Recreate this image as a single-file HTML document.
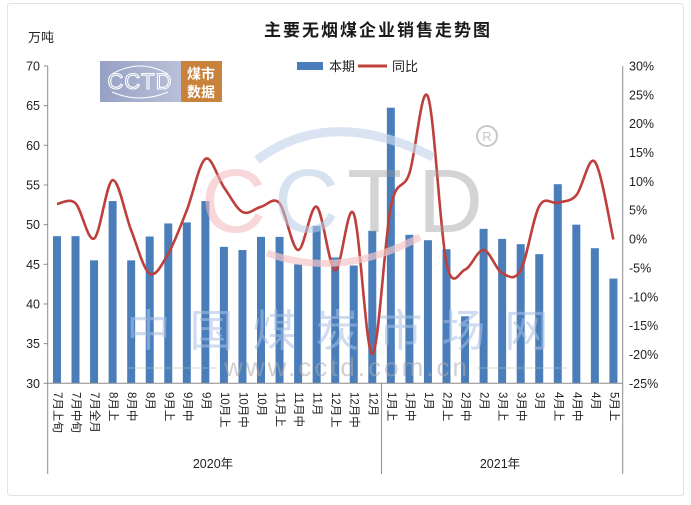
<!DOCTYPE html>
<html><head><meta charset="utf-8">
<style>
html,body{margin:0;padding:0;background:#fff;}
body{width:691px;height:500px;overflow:hidden;position:relative;font-family:"Liberation Sans","Noto Sans CJK SC",sans-serif;}
svg text{font-family:"Liberation Sans","Noto Sans CJK SC",sans-serif;}
</style></head>
<body>
<svg id="c" width="691" height="500" viewBox="0 0 691 500" xmlns="http://www.w3.org/2000/svg">
<rect x="7.5" y="3.5" width="676" height="492" rx="3" fill="#fff" stroke="#e2e2e2" stroke-width="1"/>
<defs>
<linearGradient id="lg" x1="0" y1="0" x2="1" y2="0">
<stop offset="0" stop-color="#96a0c4"/><stop offset="1" stop-color="#b9c0d8"/>
</linearGradient>
</defs>
<!-- title -->
<text x="378" y="36" text-anchor="middle" font-size="17" font-weight="bold" fill="#1a1a1a" letter-spacing="2">主要无烟煤企业销售走势图</text>
<text x="28" y="42" font-size="13" fill="#222">万吨</text>
<!-- logo -->
<rect x="100" y="61" width="81" height="41" fill="url(#lg)"/>
<rect x="181" y="61" width="41" height="41" fill="#c8823c"/>
<text x="140" y="89" text-anchor="middle" font-size="22" fill="none" stroke="#fff" stroke-width="1.1" letter-spacing="1">CCTD</text>
<path d="M112 74 Q140 58 168 74" fill="none" stroke="#fff" stroke-width="1"/>
<path d="M112 92 Q140 104 168 92" fill="none" stroke="#fff" stroke-width="1"/>
<text x="201" y="79" text-anchor="middle" font-size="14" font-weight="bold" fill="#fff">煤市</text>
<text x="201" y="97" text-anchor="middle" font-size="14" font-weight="bold" fill="#fff">数据</text>
<!-- legend -->
<rect x="297" y="62" width="26" height="8" fill="#4a7ebb"/>
<text x="329" y="71" font-size="13" fill="#222">本期</text>
<line x1="358" y1="66" x2="387" y2="66" stroke="#c0403c" stroke-width="3"/>
<text x="392" y="71" font-size="13" fill="#222">同比</text>
<g id="plot"></g>
<g id="wm">
<path d="M257 160 Q330 105 433 157" fill="none" stroke="#c9d7ec" stroke-width="9" opacity="0.7"/>
<path d="M267 253 Q340 280 420 237" fill="none" stroke="#f4c6c8" stroke-width="7" opacity="0.7"/>
<text x="201" y="232" font-size="90" fill="#f2b8bb" opacity="0.55">C</text>
<text x="274" y="232" font-size="90" fill="#b8cbe6" opacity="0.55">C</text>
<text x="347" y="232" font-size="90" fill="#9a9a9a" opacity="0.42">T</text>
<text x="418" y="232" font-size="90" fill="#9a9a9a" opacity="0.42">D</text>
<circle cx="487" cy="136" r="10" fill="none" stroke="#c8c8c8" stroke-width="2"/>
<text x="487" y="141" text-anchor="middle" font-size="13" fill="#c8c8c8">R</text>
<text x="347" y="346" text-anchor="middle" font-size="44" fill="#a9c0e4" opacity="0.55" letter-spacing="19">中国煤炭市场网</text>
<text x="347" y="376" text-anchor="middle" font-size="26" fill="#aaaaaa" opacity="0.55" letter-spacing="3">www.cctd.com.cn</text>
<line x1="127" y1="368" x2="217" y2="368" stroke="#bbb" opacity="0.6"/>
<line x1="477" y1="368" x2="567" y2="368" stroke="#bbb" opacity="0.6"/>
</g>
</svg>
<script>
(function(){
var NS="http://www.w3.org/2000/svg";
var g=document.getElementById('plot');
function el(t,a,txt){var e=document.createElementNS(NS,t);for(var k in a)e.setAttribute(k,a[k]);if(txt!==undefined)e.textContent=txt;g.appendChild(e);return e;}
var L=47.7,R=622.7,T=66,B=383.3;
var bars=[48.55,48.55,45.5,52.97,45.5,48.5,50.15,50.28,52.97,47.2,46.8,48.46,48.46,45.0,49.85,45.86,44.85,49.22,64.74,48.72,48.04,46.9,38.45,49.47,48.2,47.54,46.28,55.1,50.0,47.03,43.2];
var line=[6.1,6.2,0.1,10.2,1.5,-6,-2.5,5,13.9,9,4.7,5.6,6.2,-1.9,5.6,-5.4,4.4,-19.9,5.6,11.4,24.7,-4.2,-5.3,-1.9,-5.9,-5.4,5.7,6.3,7.6,13.4,-0.07];
var labels=["7月上旬","7月中旬","7月全月","8月上","8月中","8月","9月上","9月中","9月","10月上","10月中","10月","11月上","11月中","11月","12月上","12月中","12月","1月上","1月中","1月","2月上","2月中","2月","3月上","3月中","3月","4月上","4月中","4月","5月上"];
var n=31,cw=(R-L)/n;
function yl(v){return B-(v-30)/40*(B-T);}
function yr(v){return B-(v+25)/55*(B-T);}
el('line',{x1:L,y1:T,x2:L,y2:474,stroke:'#8c8c8c','stroke-width':1});
el('line',{x1:R,y1:T,x2:R,y2:474,stroke:'#8c8c8c','stroke-width':1});
el('line',{x1:L+18*cw,y1:B,x2:L+18*cw,y2:474,stroke:'#8c8c8c','stroke-width':1});
for(var v=30;v<=70;v+=5){var y=yl(v);el('line',{x1:L-4,y1:y,x2:L,y2:y,stroke:'#8c8c8c'});el('text',{x:40,y:y+4.5,'text-anchor':'end','font-size':12.5,fill:'#222'},String(v));}
for(var p=-25;p<=30;p+=5){var y2=yr(p);el('text',{x:629,y:y2+4.5,'font-size':12.5,fill:'#222'},p+'%');}
for(var i=0;i<n;i++){var cx=L+(i+0.5)*cw;var top=yl(bars[i]);el('rect',{x:cx-4,y:top,width:8,height:B-top,fill:'#4a7ebb'});
el('text',{transform:'translate('+(cx)+',392) rotate(90)','font-size':11.5,fill:'#222','dominant-baseline':'central'},labels[i]);}
el('line',{x1:L,y1:B,x2:R,y2:B,stroke:'#8c8c8c','stroke-width':1});
el('text',{x:213,y:468,'text-anchor':'middle','font-size':12.5,fill:'#222'},'2020年');
el('text',{x:500,y:468,'text-anchor':'middle','font-size':12.5,fill:'#222'},'2021年');
var P=[];for(var j=0;j<n;j++)P.push([L+(j+0.5)*cw,yr(line[j])]);
var d='M'+P[0][0].toFixed(1)+' '+P[0][1].toFixed(1);
for(var k=0;k<n-1;k++){var p0=P[k>0?k-1:k],p1=P[k],p2=P[k+1],p3=P[k+2<n?k+2:k+1];
var c1=[p1[0]+(p2[0]-p0[0])/6,p1[1]+(p2[1]-p0[1])/6];var c2=[p2[0]-(p3[0]-p1[0])/6,p2[1]-(p3[1]-p1[1])/6];
d+=' C'+c1[0].toFixed(1)+' '+c1[1].toFixed(1)+' '+c2[0].toFixed(1)+' '+c2[1].toFixed(1)+' '+p2[0].toFixed(1)+' '+p2[1].toFixed(1);}
el('path',{d:d,fill:'none',stroke:'#be3f3b','stroke-width':2.6,'stroke-linejoin':'round'});
})();
</script>
</body></html>
